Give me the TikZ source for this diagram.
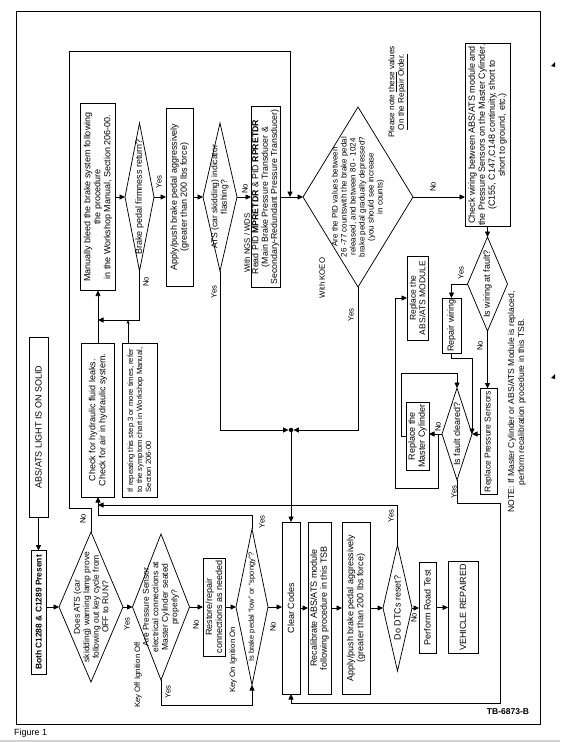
\documentclass[tikz,border=0pt]{standalone}
\usepackage{fontspec}
\setmainfont{Liberation Sans}
\usetikzlibrary{shapes.geometric,arrows.meta,calc}
\newcommand\fs{\fontsize{9}{10}\selectfont}
\newcommand\fdia{\fontsize{8.5}{9.5}\selectfont}
\newcommand\fpid{\fontsize{8}{9}\selectfont}
\newcommand\fl{\fontsize{7.8}{9}\selectfont}
\begin{document}
\begin{tikzpicture}[x=1pt,y=-1pt,
  base/.style={draw, line width=0.75pt, inner sep=0.8pt, outer sep=0pt, rotate=90, font=\fs},
  box/.style={base, rectangle, align=center},
  dia/.style={base, diamond, inner sep=0pt},
  txt/.style={rotate=90, align=center, inner sep=0pt, font=\fdia},
  lab/.style={rotate=90, inner sep=0pt, font=\fl},
  arr/.style={line width=0.75pt, -{Triangle[length=5.5pt,width=5pt]}},
  thinarr/.style={line width=0.5pt, -{Stealth[length=4pt,width=3pt]}}]
\useasboundingbox (0,0) rectangle (560,742);
\fill[gray!35] (0,739.5) rectangle (560,742);
\draw[line width=0.9pt] (16,11) rectangle (540,724);
\fill (551,66) -- (555,62) -- (555,67) -- cycle;
\fill (551,378) -- (555,374) -- (555,379) -- cycle;

% column 0
\node[box, minimum width=180pt, minimum height=19pt] (abs) at (38.5,427) {ABS/ATS LIGHT IS ON SOLID};
\node[box, minimum width=124pt, minimum height=15pt, font=\fontsize{8.4}{10}\selectfont\bfseries] (both) at (38.5,612.5) {Both C1288 \& C1289 Present};

% row 1
\node[box, minimum width=187pt, minimum height=35pt] (bleed) at (98,197) {Manually bleed the brake system following\\the procedure\\in the Workshop Manual, Section 206-00.};
\node[dia, minimum width=148pt, minimum height=29pt] (dfirm) at (139.5,197) {};
\node[txt, font=\fs] (dfirmt) at (dfirm) {Brake pedal firmness return?};
\node[box, minimum width=178pt, minimum height=27pt] (apply1) at (179.5,197) {Apply/push brake pedal aggressively\\(greater than 200 lbs force)};
\node[dia, minimum width=148pt, minimum height=34pt] (dats) at (220,197) {};
\node[txt] (datst) at (dats) {ATS (car skidding) indicator\\flashing?};
\node[box, minimum width=181pt, minimum height=29pt, font=\fontsize{8.8}{9.3}\selectfont] (readpid) at (265.5,197) {Read PID \textbf{MPRETDR} \& PID \textbf{RPRETDR}\\(Main Brake Pressure Transducer \&\\Secondary-Redundant Pressure Transducer)};
\node[dia, minimum width=180pt, minimum height=110pt] (dpid) at (358,197) {};
\node[txt, font=\fpid] (dpidt) at (dpid) {Are the PID values between\\26 -77 countswith the brake pedal\\released, and between 80 - 1024\\brake pedal gradually depressed?\\(you should see increase\\in counts)};
\node[box, minimum width=180pt, minimum height=45pt] (check) at (487.5,135) {Check wiring between ABS/ATS module and\\the Pressure Sensors on the Master Cylinder.\\(C155, C147,C148 continuity, short to\\short to ground, etc.)};

% hydraulic
\node[box, minimum width=154pt, minimum height=33pt] (hyd) at (98,420) {Check for hydraulic fluid leaks.\\Check for air in hydraulic system.};
\node[box, minimum width=154pt, minimum height=35pt, align=left, font=\fontsize{7.6}{9}\selectfont] (ifrep) at (139.5,420) {If repeating this step 3 or more times, refer\\to the symptom chart in Workshop Manual,\\Section 206-00};

% row 2
\node[dia, minimum width=150pt, minimum height=64pt] (d1) at (91,607) {};
\node[txt] (d1t) at (d1) {Does ATS (car\\skidding) warning lamp prove\\following out key cycle from\\OFF to RUN?};
\node[dia, minimum width=146pt, minimum height=57pt] (d2) at (161,607) {};
\node[txt] (d2t) at (d2) {Are Pressure Sensor\\electrical connections at\\Master Cylinder seated\\properly?};
\node[box, minimum width=98pt, minimum height=22pt] (restore) at (214,607) {Restore/repair\\connections as needed};
\node[dia, minimum width=156pt, minimum height=32pt] (d3) at (252,607) {};
\node[txt, font=\fontsize{7.5}{9}\selectfont] (d3t) at (d3) {Is brake pedal “low” or “spongy”?};
\node[box, minimum width=172pt, minimum height=18pt] (clear) at (291,608) {Clear Codes};
\node[box, minimum width=172pt, minimum height=23pt] (recal) at (319.5,608) {Recalibrate ABS/ATS module\\following procedure in this TSB};
\node[box, minimum width=172pt, minimum height=28pt] (apply2) at (356,608) {Apply/push brake pedal aggressively\\(greater than 200 lbs force)};
\node[dia, minimum width=126pt, minimum height=29pt] (ddtc) at (397.5,608) {};
\node[txt, font=\fs] (ddtct) at (ddtc) {Do DTCs reset?};
\node[box, minimum width=91pt, minimum height=17pt] (road) at (427.5,607.5) {Perform Road Test};
\node[box, minimum width=92pt, minimum height=30pt] (vehicle) at (463,607.5) {VEHICLE REPAIRED};

% right area
\node[dia, minimum width=94pt, minimum height=40pt] (dwire) at (487.5,284) {};
\node[txt, font=\fs] (dwiret) at (dwire) {Is wiring at fault?};
\node[box, minimum width=55pt, minimum height=19pt] (repair) at (451.5,325.5) {Repair wiring};
\node[box, minimum width=84pt, minimum height=21pt, font=\fontsize{8.5}{9.5}\selectfont] (replabs) at (417.5,298) {Replace the\\ABS/ATS MODULE};
\node[dia, minimum width=92pt, minimum height=30pt] (dfault) at (457,434) {};
\node[txt, font=\fs] (dfaultt) at (dfault) {Is fault cleared?};
\node[box, minimum width=68pt, minimum height=23pt] (repmc) at (417.5,436) {Replace the\\Master Cylinder};
\node[box, minimum width=106pt, minimum height=17pt, font=\fontsize{8.5}{9.5}\selectfont] (repps) at (488.5,441.5) {Replace Pressure Sensors};

\node[circle, fill, inner sep=0pt, minimum size=4.5pt] (jdot) at (291,430) {};
\coordinate (jtop) at (290,197);
\coordinate (cA) at (69,51);
\coordinate (jno) at (98,320);
\coordinate (lpA) at (401,373);
\coordinate (jno2) at (438,434);
\coordinate (lpB) at (395,488);
\coordinate (cR) at (500,703);
\coordinate (jhyd) at (98,505);
\coordinate (ifA) at ([xshift=-11.5pt]ifrep.east);

% connectors
\draw[arr] (abs.west) -- (both.east);
\draw[arr] (both.south |- d1.north) -- (d1.north);
\draw[arr] (d1.east) -- ++(0,-24) -| (cA) -| (jtop);
\draw[arr] (d1.south) -- (d2.north);
\draw[arr] (d2.south) -- (restore.north);
\draw[arr] (restore.south) -- (d3.north);
\draw[arr] (d3.south) -- (d3.south -| clear.north);
\draw[arr] (d2.west) -- ++(0,25) -| (d3.west);
\draw[arr] (d3.east) -- ++(0,-14) -| (hyd.west);
\draw[arr] (hyd.east) -- (bleed.west);
\draw[arr] (dfirm.west) |- (jno);
\draw[thinarr] (ifA) -- (ifA |- jno);
\draw[arr] (bleed.south) -- (dfirm.north);
\draw[arr] (dfirm.south) -- (apply1.north);
\draw[arr] (apply1.south) -- (dats.north);
\draw[arr] (dats.south) -- (readpid.north);
\draw[arr] (readpid.south) -- (dpid.north);
\draw[arr] (dats.west) |- (jdot);
\draw[arr] (dpid.west) |- (jdot);
\draw[arr] (jdot) -- (clear.east);
\draw[arr] (dpid.south) -- (dpid.south -| check.north);
\draw[arr] (check.west) -- (dwire.east);
\draw[arr] (dwire.north) -| (repair.east);
\draw[arr] (dwire.west) -- (dwire.west |- repps.east);
\draw[arr] (repair.west) -- ++(0,5) -| (dfault.south);
\draw[arr] (repps.north |- dfault.south) -- (dfault.south);
\draw[arr] (dfault.north) -- (dfault.north -| repmc.south);
\draw[arr] (repmc.north) -| (lpA) -| (dfault.east);
\draw[arr] (jno2) |- (lpB) |- (replabs.north);
\draw[arr] (dfault.west) -- ++(0,23) -| (cR) -| (clear.west);
\draw[arr] (clear.south) -- (clear.south -| recal.north);
\draw[arr] (recal.south) -- (recal.south -| apply2.north);
\draw[arr] (apply2.south) -- (apply2.south -| ddtc.north);
\draw[arr] (ddtc.south) -- (ddtc.south -| road.north);
\draw[arr] (road.south) -- (road.south -| vehicle.north);
\draw[arr] (ddtc.east) |- (jhyd);

% labels
\node[lab] (l1) at (83,519) {No};
\node[lab] (l2) at (127,624) {Yes};
\node[lab] (l3) at (196,625) {No};
\node[lab] (l4) at (168,692) {Yes};
\node[lab] (l5) at (138,675) {Key Off Ignition Off};
\node[lab] (l6) at (233,660) {Key On Ignition On};
\node[lab] (l7) at (273,627) {No};
\node[lab] (l8) at (262,522) {Yes};
\node[lab] (l9) at (146,282) {No};
\node[lab] (l10) at (159,182) {Yes};
\node[lab] (l11) at (245,189) {No};
\node[lab] (l12) at (214,292) {Yes};
\node[lab] (l13) at (247,243) {With NGS / WDS};
\node[lab] (l14) at (322,278) {With KOEO};
\node[lab] (l15) at (351,315) {Yes};
\node[lab] (l16) at (433,187) {No};
\node[txt, font=\fontsize{8.2}{9.5}\selectfont] (note1) at (398,92) {Please note \underline{these} values\\\underline{On the Repair Order.}};
\node[lab] (l17) at (461,273) {Yes};
\node[lab] (l18) at (480,346) {No};
\node[lab] (l19) at (438,427) {No};
\node[lab] (l20) at (454,492) {Yes};
\node[lab] (l21) at (391,516) {Yes};
\node[lab] (l22) at (414,618) {No};
\node[txt, font=\fontsize{8.6}{10}\selectfont] (note2) at (517,402) {NOTE: If Master Cylinder or ABS/ATS Module is replaced,\\perform recalibration procedure in this TSB.};
\node[anchor=west, inner sep=0pt, font=\fontsize{9}{10}\selectfont] (fig) at (14,733) {Figure 1};
\node[inner sep=0pt, font=\fontsize{8.5}{10}\selectfont\bfseries] (tb) at (508,712) {TB-6873-B};
\end{tikzpicture}
\end{document}
